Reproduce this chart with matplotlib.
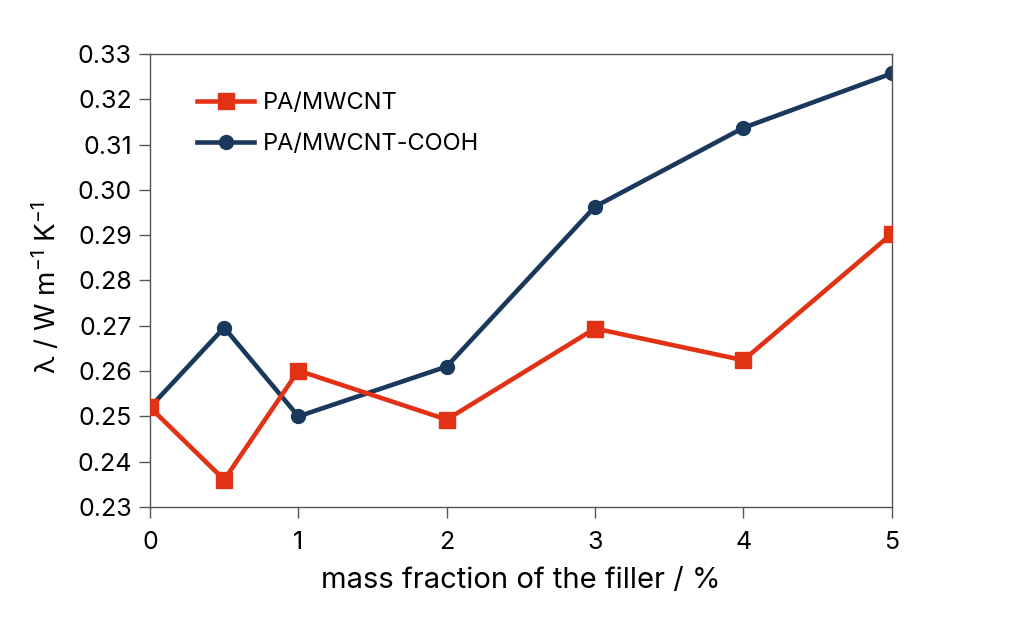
import numpy as np
import matplotlib
matplotlib.use('Agg')
import matplotlib.pyplot as plt

plt.rcParams['font.family'] = ['Inter', 'DejaVu Sans']
plt.rcParams['mathtext.fontset'] = 'custom'
plt.rcParams['mathtext.rm'] = 'Inter'
plt.rcParams['mathtext.it'] = 'Inter'

x = [0, 0.5, 1, 2, 3, 4, 5]
pa_mwcnt = [0.2520, 0.2360, 0.2601, 0.2493, 0.2694, 0.2624, 0.2903]
pa_cooh = [0.2520, 0.2696, 0.2500, 0.2610, 0.2963, 0.3137, 0.3257]
labels = ['PA/MWCNT', 'PA/MWCNT-COOH']

red = '#E23216'
blue = '#1A375C'

fig = plt.figure(figsize=(10.24, 6.42), dpi=100, facecolor='w')
ax = fig.add_axes([0.1465, 0.2103, 0.7243, 0.7056])

ax.plot(x, pa_mwcnt, color=red, lw=3.3, marker='s', ms=11.5, label=labels[0], zorder=3)
ax.plot(x, pa_cooh, color=blue, lw=3.3, marker='o', ms=10, label=labels[1], zorder=2)

ax.set_xlim(0, 5)
ax.set_ylim(0.23, 0.33)
ax.set_xticks([0, 1, 2, 3, 4, 5])
ax.set_yticks(np.arange(0.23, 0.3301, 0.01))
ax.set_yticklabels(['%.2f' % v for v in np.arange(0.23, 0.3301, 0.01)])
ax.tick_params(direction='out', length=8, width=1, color='#555555', labelsize=18, pad=5)
ax.tick_params(axis='x', pad=9)
for s in ax.spines.values():
    s.set_color('#555555')
    s.set_linewidth(1)

ax.set_xlabel('mass fraction of the filler / %', fontsize=21, labelpad=10)
ax.set_ylabel(r'λ / W m$^{-1}$ K$^{-1}$', fontsize=20)
ax.yaxis.set_label_coords(-0.118, 0.485)

ax.legend(loc='upper left', bbox_to_anchor=(0.035, 0.962), frameon=False, fontsize=17,
          handlelength=2.4, labelspacing=0.8, handletextpad=0.4)

fig.savefig('out.png', dpi=100)
